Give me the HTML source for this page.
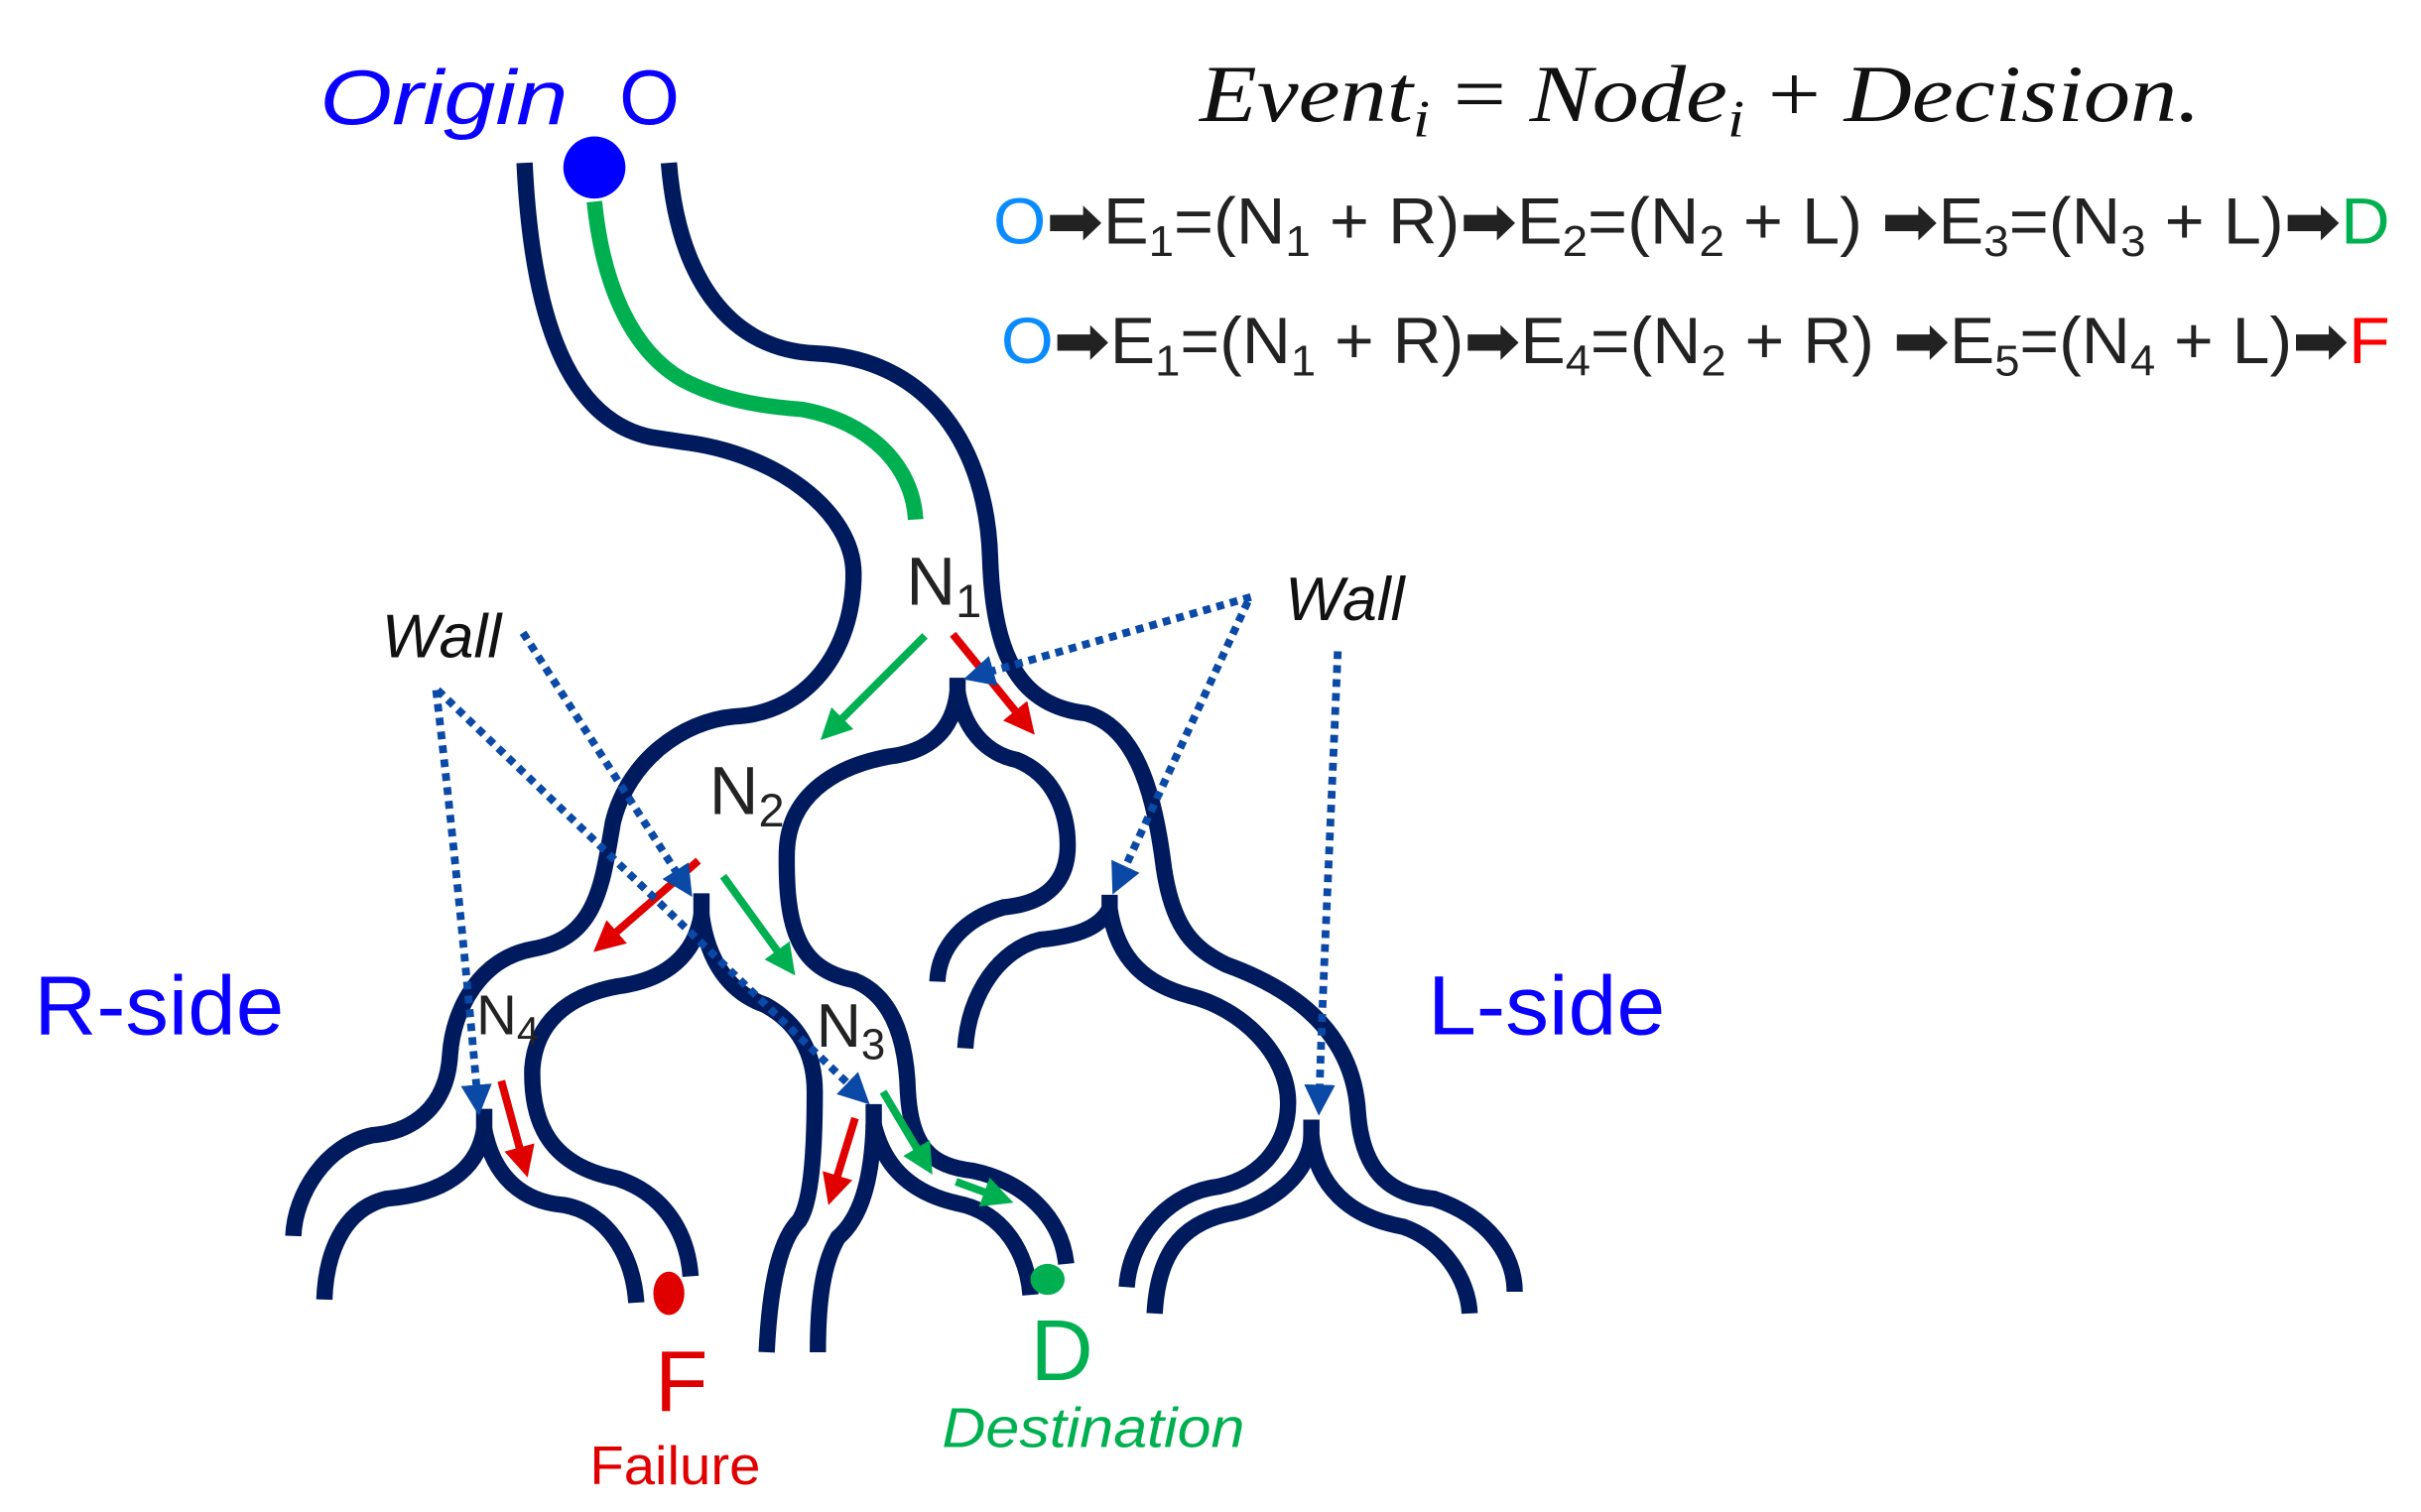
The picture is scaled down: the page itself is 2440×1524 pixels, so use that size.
<!DOCTYPE html>
<html><head><meta charset="utf-8"><style>
html,body{margin:0;padding:0;background:#fff;}
svg{display:block;}
</style></head><body>
<svg width="2440" height="1524" viewBox="0 0 1560 975" preserveAspectRatio="none" xmlns="http://www.w3.org/2000/svg">
<defs>
<marker id="ar" markerWidth="4" markerHeight="4" refX="2.5" refY="2" orient="auto" markerUnits="strokeWidth"><path d="M0,0 L4,2 L0,4 Z" fill="#e00000"/></marker>
<marker id="ag" markerWidth="4" markerHeight="4" refX="2.5" refY="2" orient="auto" markerUnits="strokeWidth"><path d="M0,0 L4,2 L0,4 Z" fill="#00b050"/></marker>
<marker id="ab" markerWidth="4" markerHeight="4" refX="2.5" refY="2" orient="auto" markerUnits="strokeWidth"><path d="M0,0 L4,2 L0,4 Z" fill="#0a4aa6"/></marker>
</defs>
<g fill="none" stroke="#001a5e" stroke-width="10.5">
<path d="M338,105 C342,190 360,270 420,282 L440,285 C500,292 550,330 550,370 C550,420 520,460 473,462 C440,465 405,490 395,530 C388,570 385,605 343,612 C310,618 292,650 290,680 C288,715 265,730 240,732 C210,738 190,770 189,797"/>
<path d="M431,105 C437,180 470,226 527,228 C600,232 636,290 638,360 C640,420 655,455 700,460 C735,470 745,520 750,560 C756,600 770,612 790,622 C840,640 872,670 875,717 C878,760 900,771 924,773 C960,785 976,810 976,833"/>
<path d="M617,437 L617,450"/>
<path d="M617,446 C614,472 598,485 572,488 C535,495 508,515 507,549 C506,600 515,625 550,632 C575,642 584,670 585,704 C587,740 600,752 627,755 C660,762 684,785 687,815"/>
<path d="M617,446 C622,475 640,487 655,490 C680,500 688,525 688,545 C688,572 670,583 647,585 C622,592 605,610 604,633"/>
<path d="M715,577 L715,590"/>
<path d="M715,586 C708,600 690,604 670,606 C645,612 624,640 622,676"/>
<path d="M715,586 C720,620 740,635 766,642 C800,650 830,680 830,711 C830,740 810,762 780,766 C750,772 728,800 726,830"/>
<path d="M845,722 L845,736"/>
<path d="M744,847 C746,810 760,790 790,783 C820,778 845,755 845,732"/>
<path d="M845,732 C848,765 870,785 904,791 C930,800 946,825 947,847"/>
<path d="M452,576 L452,592"/>
<path d="M452,590 C448,615 430,632 398,636 C365,642 345,660 343,689 C342,725 355,752 398,760 C428,770 443,795 445,823"/>
<path d="M452,590 C456,620 470,640 493,648 C515,660 525,680 525,704 C525,740 523,775 515,787 C502,800 496,830 494,872"/>
<path d="M312,715 L312,730"/>
<path d="M312,728 C308,755 285,770 249,773 C220,780 210,810 209,838"/>
<path d="M312,728 C318,760 338,775 363,777 C392,782 408,810 410,840"/>
<path d="M563,712 L563,727"/>
<path d="M563,725 C562,760 555,785 540,798 C530,815 527,840 527,872"/>
<path d="M563,725 C570,755 590,770 617,776 C648,782 662,810 664,835"/>
</g>
<path d="M383,130 C388,180 405,225 440,245 C465,258 490,262 517,264 C560,272 588,300 590,335" fill="none" stroke="#00b050" stroke-width="10"/>
<circle cx="383" cy="108" r="20" fill="#0000ff"/>
<ellipse cx="431" cy="834" rx="10" ry="14" fill="#e00000"/>
<ellipse cx="675" cy="825" rx="11" ry="10" fill="#00b050"/>
<g stroke-width="5" fill="none">
<path d="M614,409 L662,468" stroke="#e00000" marker-end="url(#ar)"/>
<path d="M596,410 L534,472" stroke="#00b050" marker-end="url(#ag)"/>
<path d="M450,555 L388,609" stroke="#e00000" marker-end="url(#ar)"/>
<path d="M466,565 L508,623" stroke="#00b050" marker-end="url(#ag)"/>
<path d="M323,697 L338,752" stroke="#e00000" marker-end="url(#ar)"/>
<path d="M551,721 L536,770" stroke="#e00000" marker-end="url(#ar)"/>
<path d="M569,704 L597,751" stroke="#00b050" marker-end="url(#ag)"/>
<path d="M616,762 L646,773" stroke="#00b050" marker-end="url(#ag)"/>
</g>
<g stroke="#0a4aa6" stroke-width="5" stroke-dasharray="5 4" fill="none" marker-end="url(#ab)">
<path d="M281,445 C290,520 302,640 308,712"/>
<path d="M282,445 L555,707"/>
<path d="M337,408 L442,572"/>
<path d="M806,385 L628,436"/>
<path d="M804,388 L720,570"/>
<path d="M862,420 C858,520 852,640 850,712"/>
</g>
<g font-family="'Liberation Sans', sans-serif">
<text x="206" y="80" font-size="50" font-style="italic" fill="#0a00ff" textLength="160" lengthAdjust="spacingAndGlyphs">Origin</text>
<text x="399" y="80" font-size="50" fill="#0a00ff">O</text>
<text x="773" y="78" font-family="'Liberation Serif', serif" font-size="52" font-style="italic" fill="#111" textLength="645" lengthAdjust="spacingAndGlyphs">Event<tspan font-size="34" dy="10">i</tspan><tspan dy="-10" font-style="normal"> = </tspan>Node<tspan font-size="34" dy="10">i</tspan><tspan dy="-10" font-style="normal"> + </tspan>Decision.</text>
<text x="640" y="157" font-size="42" fill="#222" textLength="900" lengthAdjust="spacingAndGlyphs"><tspan fill="#0a8cff">O</tspan><tspan font-family="'DejaVu Sans',sans-serif" font-weight="bold">➡</tspan>E<tspan font-size="28" dy="8">1</tspan><tspan dy="-8">=(N</tspan><tspan font-size="28" dy="8">1</tspan><tspan dy="-8"> + R)</tspan><tspan font-family="'DejaVu Sans',sans-serif" font-weight="bold">➡</tspan>E<tspan font-size="28" dy="8">2</tspan><tspan dy="-8">=(N</tspan><tspan font-size="28" dy="8">2</tspan><tspan dy="-8"> + L) </tspan><tspan font-family="'DejaVu Sans',sans-serif" font-weight="bold">➡</tspan>E<tspan font-size="28" dy="8">3</tspan><tspan dy="-8">=(N</tspan><tspan font-size="28" dy="8">3</tspan><tspan dy="-8"> + L)</tspan><tspan font-family="'DejaVu Sans',sans-serif" font-weight="bold">➡</tspan><tspan fill="#00b050">D</tspan></text>
<text x="645" y="234" font-size="42" fill="#222" textLength="895" lengthAdjust="spacingAndGlyphs"><tspan fill="#0a8cff">O</tspan><tspan font-family="'DejaVu Sans',sans-serif" font-weight="bold">➡</tspan>E<tspan font-size="28" dy="8">1</tspan><tspan dy="-8">=(N</tspan><tspan font-size="28" dy="8">1</tspan><tspan dy="-8"> + R)</tspan><tspan font-family="'DejaVu Sans',sans-serif" font-weight="bold">➡</tspan>E<tspan font-size="28" dy="8">4</tspan><tspan dy="-8">=(N</tspan><tspan font-size="28" dy="8">2</tspan><tspan dy="-8"> + R) </tspan><tspan font-family="'DejaVu Sans',sans-serif" font-weight="bold">➡</tspan>E<tspan font-size="28" dy="8">5</tspan><tspan dy="-8">=(N</tspan><tspan font-size="28" dy="8">4</tspan><tspan dy="-8"> + L)</tspan><tspan font-family="'DejaVu Sans',sans-serif" font-weight="bold">➡</tspan><tspan fill="#ff0000">F</tspan></text>
<text x="584" y="390" font-size="44" fill="#222">N<tspan font-size="30" dy="8">1</tspan></text>
<text x="457" y="525" font-size="44" fill="#222">N<tspan font-size="30" dy="8">2</tspan></text>
<text x="307" y="667" font-size="36" fill="#222">N<tspan font-size="26" dy="7">4</tspan></text>
<text x="526" y="675" font-size="40" fill="#222">N<tspan font-size="28" dy="8">3</tspan></text>
<text x="246" y="424" font-size="40" font-style="italic" fill="#111">Wall</text>
<text x="828" y="400" font-size="40" font-style="italic" fill="#111">Wall</text>
<text x="22" y="667" font-size="54" fill="#0a00ff" textLength="161" lengthAdjust="spacingAndGlyphs">R-side</text>
<text x="920" y="667" font-size="54" fill="#0a00ff" textLength="153" lengthAdjust="spacingAndGlyphs">L-side</text>
<text x="422" y="910" font-size="56" fill="#e00000">F</text>
<text x="380" y="957" font-size="35" fill="#e00000" textLength="110" lengthAdjust="spacingAndGlyphs">Failure</text>
<text x="664" y="890" font-size="56" fill="#00b050">D</text>
<text x="607" y="933" font-size="36" font-style="italic" fill="#00b050" textLength="195" lengthAdjust="spacingAndGlyphs">Destination</text>
</g>
</svg>
</body></html>
